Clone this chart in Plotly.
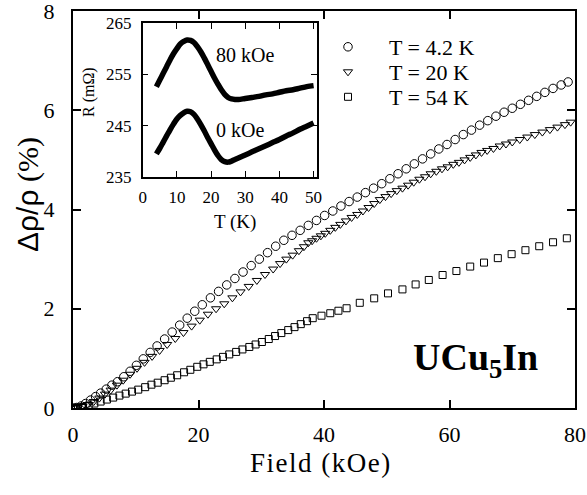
import plotly.graph_objects as go

# ---------------- data ----------------
field_42K = [0, 0.6, 1.3, 2.0, 2.8, 3.6, 4.4, 5.3, 6.2, 7.1, 8.1, 9.1, 10.1, 11.2, 12.3, 13.4,
             14.6, 15.8, 17.0, 18.2, 19.4, 20.6, 21.9, 23.2, 24.5, 25.8, 27.1, 28.4, 29.7, 31.0,
             32.3, 33.6, 34.9, 36.2, 37.5, 38.8, 40.1, 41.4, 42.7, 44.0, 45.3, 46.6, 47.9, 49.2,
             50.5, 51.8, 53.1, 54.4, 55.7, 57.0, 58.3, 59.6, 60.9, 62.2, 63.5, 64.8, 66.1, 67.4,
             68.7, 70.0, 71.3, 72.6, 73.9, 75.2, 76.5, 77.8, 78.9]
mr_42K = [0.0, 0.01, 0.04, 0.09, 0.16, 0.23, 0.30, 0.38, 0.46, 0.53, 0.63, 0.74, 0.86, 0.99, 1.12, 1.25,
          1.39, 1.53, 1.67, 1.81, 1.95, 2.08, 2.22, 2.35, 2.48, 2.61, 2.74, 2.87, 3.00, 3.13,
          3.26, 3.38, 3.48, 3.58, 3.68, 3.78, 3.88, 3.97, 4.07, 4.16, 4.25, 4.34, 4.43, 4.52,
          4.62, 4.72, 4.82, 4.92, 5.02, 5.12, 5.22, 5.31, 5.41, 5.51, 5.60, 5.70, 5.79, 5.88,
          5.96, 6.04, 6.12, 6.20, 6.28, 6.36, 6.44, 6.51, 6.57]

field_20K = [0, 0.7, 1.5, 2.4, 3.3, 4.2, 5.1, 6.0, 7.0, 8.0, 9.1, 10.2, 11.4, 12.6, 13.8, 15.0,
             16.3, 17.6, 18.9, 20.2, 21.5, 22.8, 24.1, 25.4, 26.7, 28.0, 29.3, 30.6, 31.9, 33.0,
             34.0, 35.0, 36.0, 36.8, 37.5, 38.1, 38.8, 39.5, 40.2, 41.0, 41.8, 42.6, 43.5, 44.4,
             45.3, 46.2, 47.1, 48.0, 48.9, 49.8, 50.7, 51.6, 52.5, 53.4, 54.3, 55.2, 56.1, 57.0,
             57.9, 58.8, 59.7, 60.6, 61.5, 62.4, 63.3, 64.2, 65.1, 66.0, 67.0, 68.0, 69.0, 70.0,
             71.2, 72.4, 73.6, 74.8, 76.0, 77.2, 78.4, 79.3]
mr_20K = [0.0, 0.01, 0.03, 0.07, 0.13, 0.20, 0.28, 0.36, 0.46, 0.56, 0.68, 0.80, 0.92, 1.04, 1.16, 1.28,
          1.40, 1.52, 1.65, 1.77, 1.89, 2.00, 2.10, 2.22, 2.34, 2.45, 2.57, 2.69, 2.80, 2.91,
          3.00, 3.08, 3.17, 3.25, 3.33, 3.37, 3.42, 3.47, 3.52, 3.58, 3.64, 3.70, 3.77, 3.84,
          3.90, 3.97, 4.04, 4.12, 4.20, 4.26, 4.32, 4.38, 4.43, 4.49, 4.55, 4.61, 4.66, 4.72,
          4.77, 4.82, 4.86, 4.91, 4.95, 5.00, 5.05, 5.10, 5.15, 5.19, 5.23, 5.28, 5.32, 5.36,
          5.41, 5.46, 5.51, 5.56, 5.61, 5.66, 5.71, 5.76]

field_54K = [0, 0.3, 0.8, 1.6, 2.5, 3.4, 4.4, 5.4, 6.4, 7.4, 8.4, 9.4, 10.4, 11.5, 12.5, 13.5,
             14.6, 15.6, 16.6, 17.7, 18.7, 19.8, 20.8, 21.8, 22.9, 23.9, 24.9, 26.0, 27.0, 28.1,
             29.1, 30.1, 31.2, 32.2, 33.2, 34.3, 35.3, 36.3, 37.3, 38.2, 39.6, 41.0, 42.3, 43.6,
             45.7, 48.0, 50.2, 52.5, 54.6, 56.7, 58.9, 61.1, 63.3, 65.5, 67.7, 69.9, 72.1, 74.3,
             76.5, 78.7]
mr_54K = [0.0, 0.0, 0.01, 0.02, 0.05, 0.09, 0.13, 0.17, 0.21, 0.25, 0.29, 0.33, 0.37, 0.42, 0.47, 0.51,
          0.56, 0.61, 0.66, 0.72, 0.77, 0.83, 0.88, 0.93, 0.98, 1.03, 1.08, 1.13, 1.18, 1.23,
          1.28, 1.33, 1.39, 1.45, 1.51, 1.57, 1.63, 1.69, 1.75, 1.81, 1.86, 1.91, 1.96, 2.01,
          2.12, 2.21, 2.31, 2.39, 2.49, 2.58, 2.68, 2.76, 2.85, 2.93, 3.02, 3.10, 3.18, 3.26,
          3.34, 3.42]

inset_T = [4, 5, 6, 7, 8, 9, 10, 11, 12, 13, 14, 15, 16, 17, 18, 19, 20, 21, 22, 23, 24, 25,
           26, 27, 28, 30, 32, 34, 36, 38, 40, 42, 44, 46, 48, 50]
R_0kOe = [239.5, 240.6, 241.8, 243.0, 244.2, 245.3, 246.3, 247.0, 247.5, 247.8, 247.7, 247.2,
          246.3, 245.2, 244.0, 242.7, 241.5, 240.3, 239.2, 238.4, 238.0, 237.9, 238.1, 238.4,
          238.7, 239.3, 239.9, 240.5, 241.1, 241.7, 242.3, 243.0, 243.6, 244.3, 244.9, 245.5]
R_80kOe = [252.6, 253.9, 255.2, 256.5, 257.8, 259.0, 260.0, 260.9, 261.4, 261.7, 261.6, 261.2,
           260.4, 259.4, 258.2, 256.9, 255.6, 254.3, 253.1, 252.0, 251.1, 250.5, 250.2, 250.1,
           250.1, 250.3, 250.5, 250.7, 251.0, 251.2, 251.5, 251.8, 252.0, 252.3, 252.6, 252.8]

legend_names = ["T = 4.2 K", "T = 20 K", "T = 54 K"]
main_xticks = [0, 20, 40, 60, 80]
main_yticks = [0, 2, 4, 6, 8]
inset_xticks = [0, 10, 20, 30, 40, 50]
inset_yticks = [235, 245, 255, 265]

# ---------------- layout geometry (pixels) ----------------
W, H = 587, 495
L, R, T, B = 73, 575, 11, 408   # plot area in pixels
pw, ph = R - L, B - T
def px(xp): return (xp - L) / pw
def py(yp): return (B - yp) / ph

SERIF = "Liberation Serif, Times New Roman, Times, serif"

fig = go.Figure()
fig.add_trace(go.Scatter(x=field_42K, y=mr_42K, mode="markers", name=legend_names[0], legend="legend",
                         marker=dict(symbol="circle-open", size=8.5, color="black", line=dict(width=1))))
fig.add_trace(go.Scatter(x=field_20K, y=mr_20K, mode="markers", name=legend_names[1], legend="legend2",
                         marker=dict(symbol="triangle-down-open", size=8, color="black", line=dict(width=1))))
fig.add_trace(go.Scatter(x=field_54K, y=mr_54K, mode="markers", name=legend_names[2], legend="legend3",
                         marker=dict(symbol="square-open", size=7, color="black", line=dict(width=1))))

fig.add_trace(go.Scatter(x=inset_T, y=R_80kOe, mode="lines", xaxis="x2", yaxis="y2",
                         line=dict(color="black", width=5.5, shape="spline"), showlegend=False))
fig.add_trace(go.Scatter(x=inset_T, y=R_0kOe, mode="lines", xaxis="x2", yaxis="y2",
                         line=dict(color="black", width=5.5, shape="spline"), showlegend=False))

axis_common = dict(showgrid=False, zeroline=False, showline=True, linecolor="black",
                   mirror="ticks", ticks="inside", tickcolor="black", automargin=False,
                   ticklabeloverflow="allow")

def leg(yc):
    return dict(x=px(307), y=py(yc), xanchor="left", yanchor="middle", bgcolor="rgba(0,0,0,0)",
                font=dict(size=22, family=SERIF, color="black"), itemwidth=72, borderwidth=0)

fig.update_layout(
    template="none",
    width=W, height=H,
    margin=dict(l=L, r=W - R, t=T, b=H - B, pad=0, autoexpand=False),
    paper_bgcolor="white", plot_bgcolor="white",
    font=dict(family=SERIF, color="black"),
    xaxis=dict(**axis_common, range=[0, 80], tickvals=main_xticks, linewidth=2, ticklen=8,
               tickwidth=1.5, tickfont=dict(size=22, family=SERIF), ticklabelstandoff=6),
    yaxis=dict(**axis_common, range=[0, 8], tickvals=main_yticks, linewidth=2, ticklen=8,
               tickwidth=1.5, tickfont=dict(size=22, family=SERIF), ticklabelstandoff=12),
    xaxis2=dict(**axis_common, range=[0, 51], tickvals=inset_xticks, linewidth=1.5, ticklen=6,
                tickwidth=1, tickfont=dict(size=17, family=SERIF), ticklabelstandoff=4,
                domain=[px(142.7), px(317)], anchor="y2"),
    yaxis2=dict(**axis_common, range=[235, 265], tickvals=inset_yticks, linewidth=1.5, ticklen=6,
                tickwidth=1, tickfont=dict(size=17, family=SERIF), ticklabelstandoff=6,
                domain=[py(177), py(23)], anchor="x2"),
    showlegend=True,
    legend=leg(47), legend2=leg(72), legend3=leg(97),
)

ann = [
    dict(text='<span style="letter-spacing:1.5px">Field (kOe)</span>', x=px(321), y=py(463),
         font=dict(size=27)),
    dict(text='<span style="font-family:Liberation Sans">Δρ/ρ</span> (%)', x=px(28), y=py(195),
         textangle=-90, font=dict(size=30)),
    dict(text="<b>UCu<sub>5</sub>In</b>", x=px(475), y=py(360), font=dict(size=38)),
    dict(text="T (K)", x=px(235), y=py(222), font=dict(size=19)),
    dict(text="R (mΩ)", x=px(89), y=py(92), textangle=-90, font=dict(size=16)),
    dict(text="80 kOe", x=px(214), y=py(55), xanchor="left", font=dict(size=20)),
    dict(text="0 kOe", x=px(214), y=py(130), xanchor="left", font=dict(size=20)),
]
for a in ann:
    a.setdefault("xanchor", "center")
    a["font"] = dict(family=SERIF, color="black", **a["font"])
    fig.add_annotation(xref="paper", yref="paper", yanchor="middle", showarrow=False, **a)

fig.write_html("out.html", config={"displayModeBar": False},
               post_script="document.body.style.margin='0px';")
